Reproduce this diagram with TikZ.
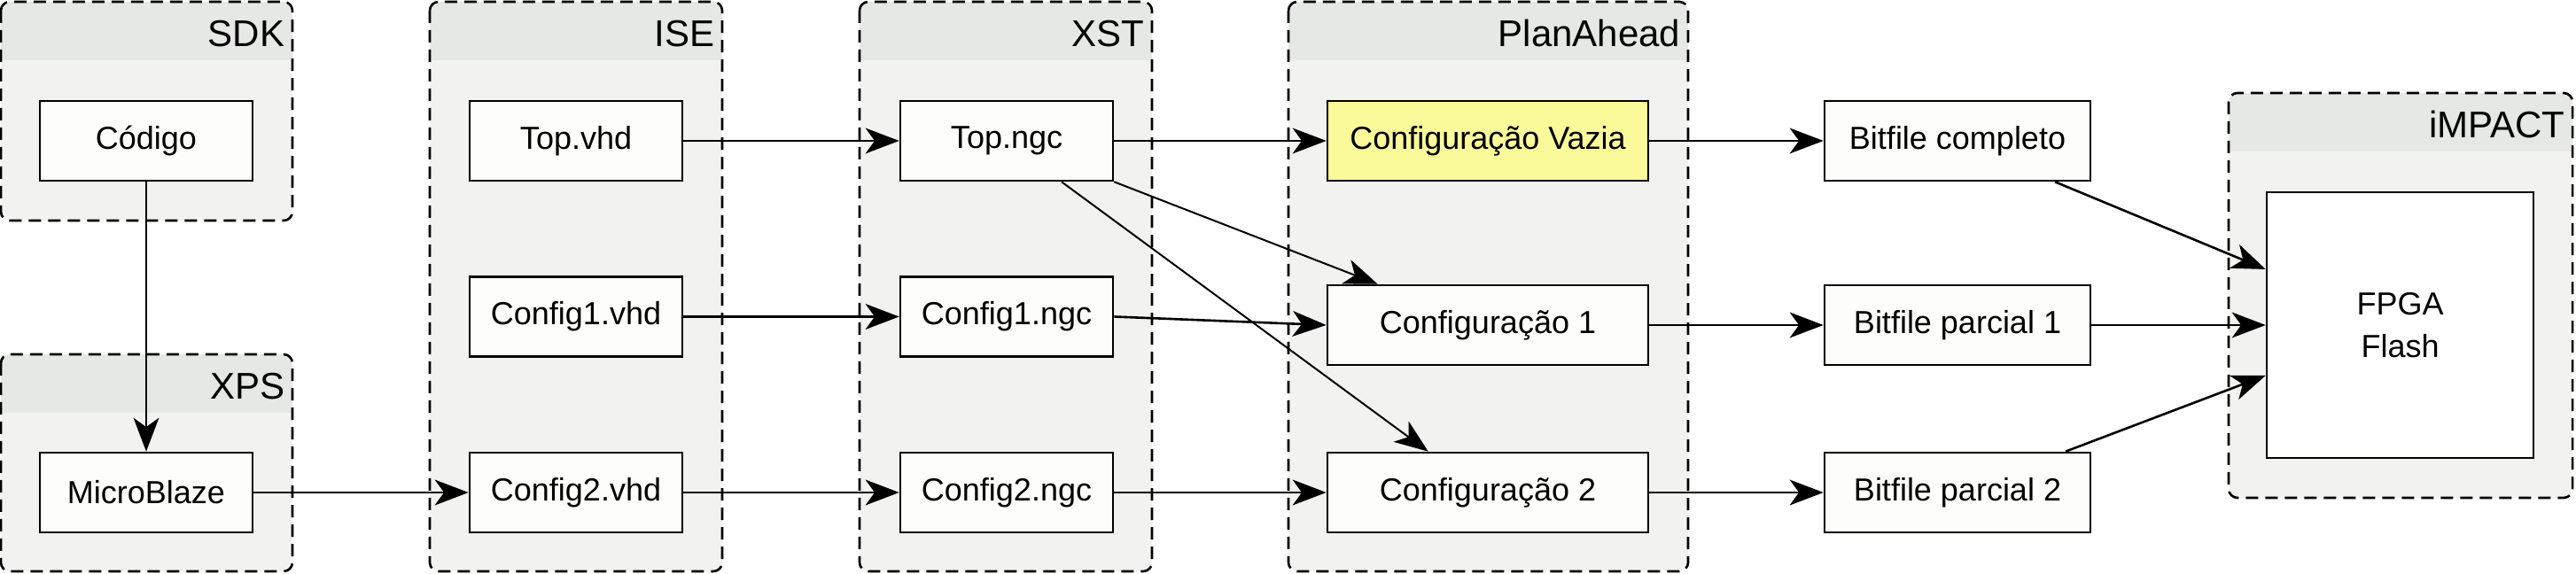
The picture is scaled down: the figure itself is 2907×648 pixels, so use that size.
\documentclass[tikz,border=0pt]{standalone}
\usepackage{fontspec}
\setmainfont{Liberation Sans}
\usetikzlibrary{arrows.meta,calc}
\definecolor{contfill}{HTML}{F2F3F1}
\definecolor{headfill}{HTML}{E6E8E6}
\definecolor{boxfill}{HTML}{FDFDFB}
\definecolor{yelfill}{HTML}{FAFA9A}
\tikzset{
  px/.style={x=0.25pt,y=-0.25pt},
  cont/.style={draw=black,line width=0.65pt,dash pattern=on 3.5pt off 2pt,rounded corners=2.5pt},
  filebox/.style={draw=black,fill=boxfill,line width=0.65pt,minimum width=60pt,minimum height=22.5pt,inner sep=0pt,font=\fontsize{9}{11}\selectfont},
  hdr/.style={anchor=east,inner sep=0pt,font=\fontsize{10.5}{12}\selectfont},
  conn/.style={line width=0.65pt,-{Stealth[length=9.5pt,width=7.2pt,inset=2.6pt]}},
  thinconn/.style={line width=0.5pt,-{Stealth[length=9.5pt,width=7.2pt,inset=2.6pt]}}
}
\newcommand{\container}[6]{%
  % #1 xl, #2 yt, #3 xr, #4 yb, #5 header bottom, #6 label
  \begin{scope}
    \clip[rounded corners=2.5pt] (#1,#2) rectangle (#3,#4);
    \fill[contfill] (#1,#2) rectangle (#3,#4);
    \fill[headfill] (#1,#2) rectangle (#3,#5);
  \end{scope}
  \draw[cont] (#1,#2) rectangle (#3,#4);
}
\begin{document}
\begin{tikzpicture}[px]
\useasboundingbox (0,0) rectangle (2907,648);
% containers
\container{1}{2}{330}{249}{68}{SDK}
\node[hdr] (lsdk) at (322,38) {SDK};
\container{1}{400}{330}{645}{466}{XPS}
\node[hdr] (lxps) at (322,436) {XPS};
\container{485}{2}{815}{645}{68}{ISE}
\node[hdr] (lise) at (807,38) {ISE};
\container{970}{2}{1300}{645}{68}{XST}
\node[hdr] (lxst) at (1292,38) {XST};
\container{1454}{2}{1905}{645}{68}{PlanAhead}
\node[hdr] (lpa) at (1897,38) {PlanAhead};
\container{2515}{105}{2903}{562}{171}{iMPACT}
\node[hdr] (limp) at (2895,141) {iMPACT};
% nodes
\node[filebox] (cod) at (165,159) {Código};
\node[filebox] (mb) at (165,556) {MicroBlaze};
\node[filebox] (tvhd) at (650,159) {Top.vhd};
\node[filebox] (c1vhd) at (650,357.5) {Config1.vhd};
\node[filebox] (c2vhd) at (650,556) {Config2.vhd};
\node[filebox] (tngc) at (1136,159) {Top.ngc};
\node[filebox] (c1ngc) at (1136,357.5) {Config1.ngc};
\node[filebox] (c2ngc) at (1136,556) {Config2.ngc};
\node[filebox,fill=yelfill,minimum width=90.5pt] (cv) at (1679,159) {Configuração Vazia};
\node[filebox,minimum width=90.5pt] (cf1) at (1679,367) {Configuração 1};
\node[filebox,minimum width=90.5pt] (cf2) at (1679,556) {Configuração 2};
\node[filebox,minimum width=75pt] (bc) at (2209,159) {Bitfile completo};
\node[filebox,minimum width=75pt] (bp1) at (2209,367) {Bitfile parcial 1};
\node[filebox,minimum width=75pt] (bp2) at (2209,556) {Bitfile parcial 2};
\node[filebox,fill=white,minimum width=75.25pt,minimum height=75pt,align=center,font=\fontsize{9}{12}\selectfont] (fpga) at (2708.5,367) {FPGA\\Flash};
% connectors
\draw[conn] (cod.south) -- (mb.north);
\draw[conn] (mb.east) -- (c2vhd.west);
\draw[conn] (tvhd.east) -- (tngc.west);
\draw[conn] (c1vhd.east) -- (c1ngc.west);
\draw[conn] (c2vhd.east) -- (c2ngc.west);
\draw[conn] (tngc.east) -- (cv.west);
\draw[conn] (c1ngc.east) -- (cf1.west);
\draw[conn] (c2ngc.east) -- (cf2.west);
\draw[thinconn] (tngc.south east) -- ($(cf1.north west)+(58,0)$);
\draw[thinconn] ($(tngc.south)+(62,0)$) -- ($(cf2.north west)+(115,0)$);
\draw[conn] (cv.east) -- (bc.west);
\draw[conn] (cf1.east) -- (bp1.west);
\draw[conn] (cf2.east) -- (bp2.west);
\draw[conn] ($(bc.south)+(110,0)$) -- ($(fpga.west)+(0,-63)$);
\draw[conn] (bp1.east) -- (fpga.west);
\draw[conn] ($(bp2.north)+(122,0)$) -- ($(fpga.west)+(0,57)$);
\end{tikzpicture}
\end{document}
